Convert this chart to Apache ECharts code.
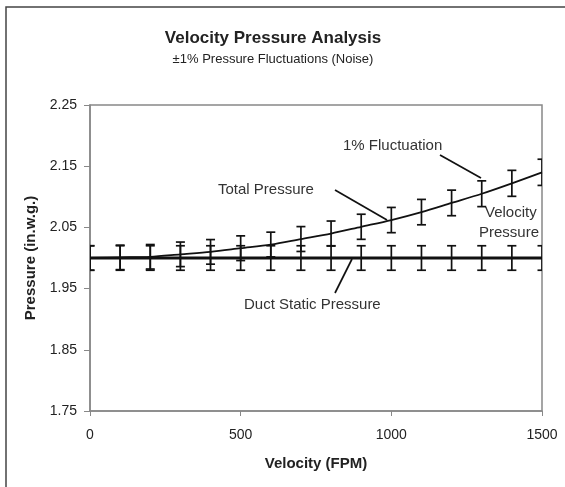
<!DOCTYPE html>
<html>
<head>
<meta charset="utf-8">
<script src="https://cdn.jsdelivr.net/npm/echarts@6/dist/echarts.min.js"></script>
<style>
  html, body { margin: 0; padding: 0; background: #fff; }
  #chart { width: 565px; height: 487px; }
</style>
</head>
<body>
<div id="chart"></div>
<script>
// velocity in FPM, pressure in in.w.g.
const velocity = [0, 100, 200, 300, 400, 500, 600, 700, 800, 900, 1000, 1100, 1200, 1300, 1400, 1500];
const staticPressure = [2.000, 2.000, 2.000, 2.000, 2.000, 2.000, 2.000, 2.000, 2.000, 2.000, 2.000, 2.000, 2.000, 2.000, 2.000, 2.000];
const totalPressure = [2.000, 2.001, 2.002, 2.006, 2.010, 2.016, 2.022, 2.031, 2.040, 2.051, 2.062, 2.075, 2.090, 2.105, 2.122, 2.140];
const fluctuation = 0.01; // +-1%
const xTicks = [0, 500, 1000, 1500];

const font = 'Liberation Sans, Arial, sans-serif';
const chart = echarts.init(document.getElementById('chart'));

function pairs(ys) {
  return velocity.map((v, i) => [v, ys[i]]);
}
function errData(ys) {
  return velocity.map((v, i) => [v, ys[i] * (1 - fluctuation), ys[i] * (1 + fluctuation)]);
}

function renderErr(params, api) {
  const lo = api.coord([api.value(0), api.value(1)]);
  const hi = api.coord([api.value(0), api.value(2)]);
  const w = 4.5;
  const style = { stroke: '#111', lineWidth: 1.7 };
  return {
    type: 'group',
    children: [
      { type: 'line', shape: { x1: lo[0], y1: lo[1], x2: hi[0], y2: hi[1] }, style },
      { type: 'line', shape: { x1: lo[0] - w, y1: lo[1], x2: lo[0] + w, y2: lo[1] }, style },
      { type: 'line', shape: { x1: hi[0] - w, y1: hi[1], x2: hi[0] + w, y2: hi[1] }, style }
    ]
  };
}

// annotation text, placed by its middle-left point
function note(text, x, y) {
  return { type: 'text', x: x, y: y, style: { text: text, fill: '#333', font: '15px ' + font, verticalAlign: 'middle' } };
}
const leader = { stroke: '#111', lineWidth: 1.7 };

chart.setOption({
  backgroundColor: '#fff',
  animation: false,
  title: {
    text: 'Velocity Pressure Analysis',
    subtext: '±1% Pressure Fluctuations (Noise)',
    left: 268, textAlign: 'center', top: 25, itemGap: 6,
    textStyle: { fontFamily: font, fontSize: 17, fontWeight: 'bold', color: '#222' },
    subtextStyle: { fontFamily: font, fontSize: 13, color: '#222' }
  },
  grid: { left: 90, right: 23, top: 105, bottom: 76 },
  xAxis: {
    type: 'value', min: 0, max: 1500, interval: 500,
    name: 'Velocity (FPM)', nameLocation: 'middle', nameGap: 45,
    nameTextStyle: { fontFamily: font, fontSize: 15, fontWeight: 'bold', color: '#222' },
    axisLine: { lineStyle: { color: '#888', width: 1.5 } },
    axisTick: { show: true, inside: false, length: 5, lineStyle: { color: '#888' } },
    axisLabel: { fontFamily: font, fontSize: 14, color: '#222', margin: 17,
      customValues: xTicks, formatter: v => String(v) },
    splitLine: { show: false }
  },
  yAxis: {
    type: 'value', min: 1.75, max: 2.25, interval: 0.1,
    name: 'Pressure (in.w.g.)', nameLocation: 'middle', nameGap: 49,
    nameTextStyle: { fontFamily: font, fontSize: 15, fontWeight: 'bold', color: '#222' },
    axisLine: { show: true, lineStyle: { color: '#888', width: 1.5 } },
    axisTick: { show: true, inside: false, length: 6, lineStyle: { color: '#888' } },
    axisLabel: { fontFamily: font, fontSize: 14, color: '#222', margin: 13,
      formatter: v => v.toFixed(2) },
    splitLine: { show: false }
  },
  graphic: [
    { type: 'rect', shape: { x: 6, y: 7, width: 600, height: 600 }, style: { fill: 'none', stroke: '#444', lineWidth: 1.5 }, silent: true, z: -10 },
    { type: 'rect', shape: { x: 90, y: 105, width: 452, height: 306 }, style: { fill: 'none', stroke: '#888', lineWidth: 1.5 }, silent: true, z: -5 },
    note('1% Fluctuation', 343, 146),
    { type: 'line', shape: { x1: 440, y1: 155, x2: 481, y2: 178 }, style: leader },
    note('Total Pressure', 218, 190),
    { type: 'line', shape: { x1: 335, y1: 190, x2: 387, y2: 220 }, style: leader },
    note('Velocity', 485, 213),
    note('Pressure', 479, 233),
    note('Duct Static Pressure', 244, 305),
    { type: 'line', shape: { x1: 335, y1: 293, x2: 352, y2: 259 }, style: leader }
  ],
  series: [
    {
      name: 'Total Pressure', type: 'line', data: pairs(totalPressure), smooth: 0.3,
      showSymbol: false, lineStyle: { color: '#111', width: 1.8 }, z: 3
    },
    {
      name: 'Duct Static Pressure', type: 'line', data: pairs(staticPressure),
      showSymbol: false, lineStyle: { color: '#111', width: 3 }, z: 3
    },
    { type: 'custom', renderItem: renderErr, data: errData(totalPressure), clip: true, encode: { x: 0, y: [1, 2] }, z: 4 },
    { type: 'custom', renderItem: renderErr, data: errData(staticPressure), clip: true, encode: { x: 0, y: [1, 2] }, z: 4 }
  ]
});
</script>
</body>
</html>
